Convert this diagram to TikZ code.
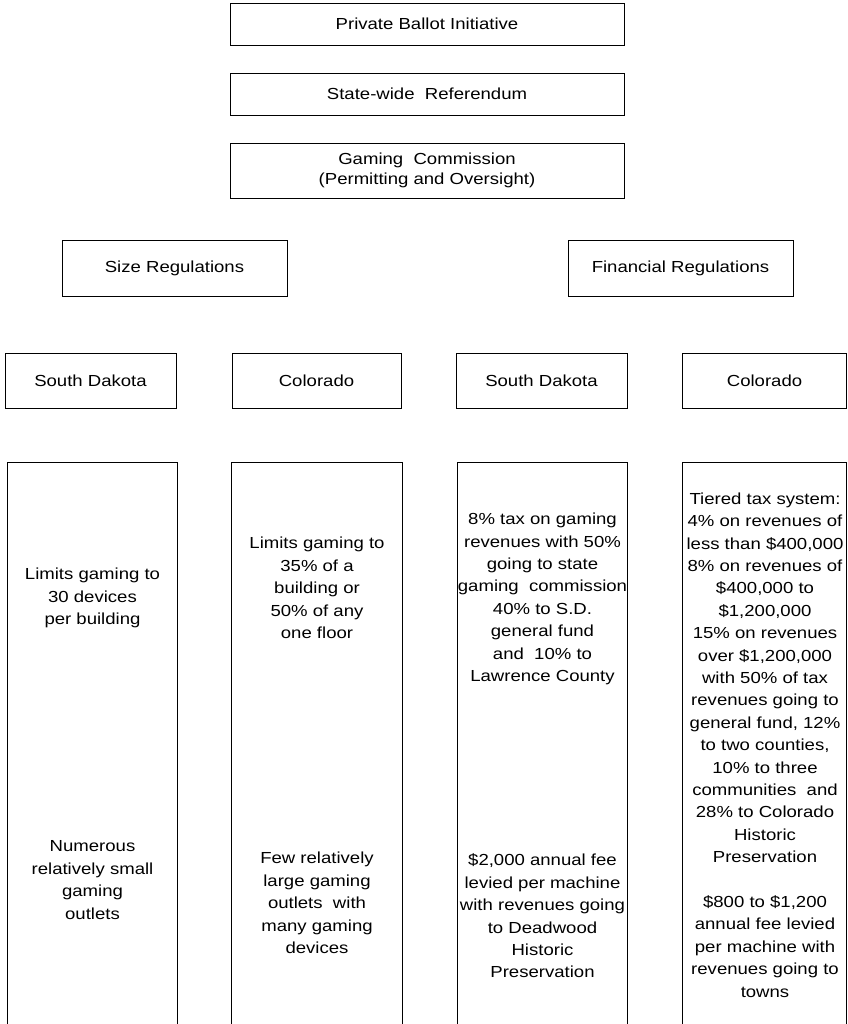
\documentclass[tikz,border=0pt]{standalone}
\usepackage{fontspec}
\setmainfont{Liberation Sans}[FakeStretch=1.16]
\begin{document}
\begin{tikzpicture}[x=1pt,y=-1pt,
  frame/.style={draw, line width=0.9pt},
  box/.style={frame, inner sep=0pt, align=center,
    font=\fontsize{16}{20}\selectfont},
  col/.style={inner sep=0pt, minimum height=600pt},
  txt/.style={inner sep=0pt, align=center,
    font=\fontsize{16}{22.4}\selectfont}]
\useasboundingbox (0,0) rectangle (847,1024);

% top chain
\node[box, minimum width=394pt, minimum height=42pt] (ballot) at (427,24) {Private Ballot Initiative};
\node[box, minimum width=394pt, minimum height=42pt] (referendum) at (427,94) {State-wide\ \ Referendum};
\node[box, minimum width=394pt, minimum height=55pt] (commission) at (427,170.5) {Gaming\ \ Commission\\(Permitting and Oversight)};

% regulation categories
\node[box, minimum width=225pt, minimum height=56pt] (size) at (174.5,268) {Size Regulations};
\node[box, minimum width=225pt, minimum height=56pt] (finance) at (680.5,268) {Financial Regulations};

% states
\node[box, minimum width=171pt, minimum height=55pt] (sdsize) at (90.5,380.5) {South Dakota};
\node[box, minimum width=169pt, minimum height=55pt] (cosize) at (316.5,380.5) {Colorado};
\node[box, minimum width=171pt, minimum height=55pt] (sdfin) at (541.5,380.5) {South Dakota};
\node[box, minimum width=164pt, minimum height=55pt] (cofin) at (764.5,380.5) {Colorado};

% tall open-bottom columns
\node[col, minimum width=169pt] (c1) at (92.5,763) {};
\node[col, minimum width=170pt] (c2) at (317,763) {};
\node[col, minimum width=169pt] (c3) at (542.5,763) {};
\node[col, minimum width=163.5pt] (c4) at (764.75,763) {};
\foreach \c in {c1,c2,c3,c4}
  \draw[frame] (\c.south west) |- (\c.north east) -- (\c.south east);

% column texts
\node[txt] (c1top) at (92.5,598) {Limits gaming to\\30 devices\\per building};
\node[txt] (c1bot) at (92.5,880) {Numerous\\relatively small\\gaming\\outlets};

\node[txt] (c2top) at (317,588) {Limits gaming to\\35\% of a\\building or\\50\% of any\\one floor};
\node[txt] (c2bot) at (317,903) {Few relatively\\large gaming\\outlets\ \ with\\many gaming\\devices};

\node[txt] (c3top) at (542.5,599) {8\% tax on gaming\\revenues with 50\%\\going to state\\gaming\ \ commission\\40\% to S.D.\\general fund\\and\ \ 10\% to\\Lawrence County};
\node[txt] (c3bot) at (542.5,916) {\$2,000 annual fee\\levied per machine\\with revenues going\\to Deadwood\\Historic\\Preservation};

\node[txt] (c4txt) at (765,745) {Tiered tax system:\\4\% on revenues of\\less than \$400,000\\8\% on revenues of\\\$400,000 to\\\$1,200,000\\15\% on revenues\\over \$1,200,000\\with 50\% of tax\\revenues going to\\general fund, 12\%\\to two counties,\\10\% to three\\communities\ \ and\\28\% to Colorado\\Historic\\Preservation\\[22.4pt]\$800 to \$1,200\\annual fee levied\\per machine with\\revenues going to\\towns};
\end{tikzpicture}
\end{document}
